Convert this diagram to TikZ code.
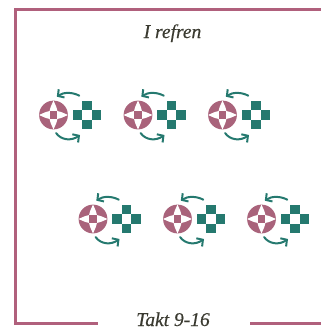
\documentclass[tikz,border=0pt]{standalone}
\usepackage{fontspec}
\setmainfont{Liberation Serif}
\newfontfamily\capfont{Liberation Serif}[ItalicFeatures={FakeBold=0.35}]
\usetikzlibrary{arrows.meta}
\definecolor{rose}{HTML}{B0607C}
\definecolor{disc}{HTML}{A9637B}
\definecolor{teal}{HTML}{25796F}
\definecolor{ink}{HTML}{3A3A30}
\tikzset{
  x=1pt,y=-1pt,
  framerule/.style={draw=rose,line width=2.7pt},
  caption/.style={text=ink,font=\fontsize{19.5}{21}\capfont\itshape,inner sep=0pt,anchor=base},
  turn/.style={draw=teal,line width=2pt,line cap=round,-{Straight Barb[length=4.5pt,width=10pt,line width=2pt]}},
  discnode/.style={circle,fill=disc,minimum size=28.8pt,inner sep=0pt,outer sep=0pt},
  cell/.style={fill=teal,minimum size=9.8pt,inner sep=0pt,outer sep=0pt},
  dancer/.pic={
    \node[discnode] (-disc) at (0,0) {};
    \fill[white] (0,-14.4) .. controls (1.8,-10.5) and (3.5,-7) .. (3.9,-3.9)
      .. controls (7,-3.5) and (10.5,-1.8) .. (14.4,0)
      .. controls (10.5,1.8) and (7,3.5) .. (3.9,3.9)
      .. controls (3.5,7) and (1.8,10.5) .. (0,14.4)
      .. controls (-1.8,10.5) and (-3.5,7) .. (-3.9,3.9)
      .. controls (-7,3.5) and (-10.5,1.8) .. (-14.4,0)
      .. controls (-10.5,-1.8) and (-7,-3.5) .. (-3.9,-3.9)
      .. controls (-3.5,-7) and (-1.8,-10.5) .. (0,-14.4) -- cycle;
    \fill[disc] (-3.9,-3.9) rectangle (3.9,3.9);
    \node[cell] (-n) at (33.5,-9.5) {};
    \node[cell] (-s) at (33.5,9.5) {};
    \node[cell] (-w) at (24,0) {};
    \node[cell] (-e) at (43,0) {};
    \coordinate (-a1) at (25.8,-19.3);
    \coordinate (-a2) at (3.3,-18.3);
    \coordinate (-b1) at (2.5,18);
    \coordinate (-b2) at (26.5,20);
    \draw[turn] (-a1) .. controls (19,-23) and (10,-23) .. (-a2);
    \draw[turn] (-b1) .. controls (8,25.5) and (18,26) .. (-b2);
  }
}
\begin{document}
\begin{tikzpicture}
\useasboundingbox (0,0) rectangle (321,330);
\node[caption] (title) at (172.5,38) {I refren};
\node[caption] (takt) at (173,326) {Takt 9-16};
\coordinate (tr) at (321,9.5);
\coordinate (tl) at (15.5,9.5);
\coordinate (bl) at (15.5,323.5);
\coordinate (bla) at (98,323.5);
\coordinate (brb) at (250,323.5);
\coordinate (brr) at (321,323.5);
\draw[framerule] (tr) -- (tl) -- (bl) -- (bla);
\draw[framerule] (brb) -- (brr);
\pic (d1) at (53.5,115) {dancer};
\pic (d2) at (138,115) {dancer};
\pic (d3) at (222.5,115) {dancer};
\pic (d4) at (93,219) {dancer};
\pic (d5) at (177.5,219) {dancer};
\pic (d6) at (261.5,219) {dancer};
\end{tikzpicture}
\end{document}
